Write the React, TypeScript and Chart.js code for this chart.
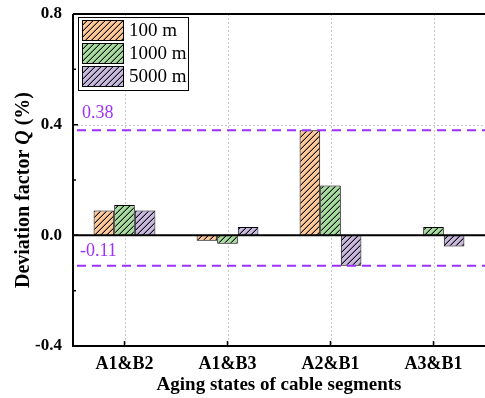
import React, { useEffect, useRef } from "react";
import { Chart, registerables } from "chart.js";

Chart.register(...registerables);

const categories = ["A1&B2", "A1&B3", "A2&B1", "A3&B1"];
const series100 = [0.09, -0.02, 0.38, 0];
const series1000 = [0.11, -0.03, 0.18, 0.03];
const series5000 = [0.09, 0.03, -0.11, -0.04];
const seriesLabels = ["100 m", "1000 m", "5000 m"];
const seriesColors = ["#FDC898", "#A6DA9F", "#C6B9DD"];
const refLines = [0.38, -0.11];
const refLabels = ["0.38", "-0.11"];
const yMajorTicks = [-0.4, 0, 0.4, 0.8];
const yMinorTicks = [-0.2, 0.2, 0.6];
const xTitle = "Aging states of cable segments";

const SERIF = "'Liberation Serif', 'Times New Roman', serif";
const PURPLE = "#9B30FF";

function makeHatch(color: string): CanvasPattern | string {
  const s = 6;
  const c = document.createElement("canvas");
  c.width = s;
  c.height = s;
  const g = c.getContext("2d");
  if (!g) return color;
  g.fillStyle = color;
  g.fillRect(0, 0, s, s);
  for (let px = 0; px < s; px++) {
    for (let py = 0; py < s; py++) {
      const k = (px + py) % s;
      if (k === s - 1) {
        g.fillStyle = "rgba(0,0,0,0.9)";
        g.fillRect(px, py, 1, 1);
      } else if (k === s - 2) {
        g.fillStyle = "rgba(0,0,0,0.35)";
        g.fillRect(px, py, 1, 1);
      }
    }
  }
  const p = g.createPattern(c, "repeat");
  return p || color;
}

const decor = {
  id: "decor",
  beforeDatasetsDraw(chart: any) {
    const { ctx, chartArea: a, scales } = chart;
    const x = scales.x;
    const y = scales.y;
    ctx.save();
    ctx.strokeStyle = "#c8c8c8";
    ctx.lineWidth = 1;
    ctx.setLineDash([2, 2]);
    categories.forEach((_, i) => {
      const px = Math.round(x.getPixelForValue(i)) + 0.5;
      ctx.beginPath();
      ctx.moveTo(px, a.top);
      ctx.lineTo(px, a.bottom);
      ctx.stroke();
    });
    yMajorTicks.forEach((v) => {
      const py = Math.round(y.getPixelForValue(v)) + 0.5;
      ctx.beginPath();
      ctx.moveTo(a.left, py);
      ctx.lineTo(a.right, py);
      ctx.stroke();
    });
    ctx.restore();
  },
  afterDatasetsDraw(chart: any) {
    const { ctx, chartArea: a, scales } = chart;
    const x = scales.x;
    const y = scales.y;
    ctx.save();
    // zero line
    ctx.strokeStyle = "#000";
    ctx.lineWidth = 2;
    const y0 = y.getPixelForValue(0);
    ctx.beginPath();
    ctx.moveTo(a.left, y0);
    ctx.lineTo(a.right, y0);
    ctx.stroke();
    // reference lines
    ctx.strokeStyle = PURPLE;
    ctx.lineWidth = 2;
    ctx.setLineDash([9, 6]);
    refLines.forEach((v) => {
      const py = y.getPixelForValue(v);
      ctx.beginPath();
      ctx.moveTo(a.left + 4, py);
      ctx.lineTo(a.right, py);
      ctx.stroke();
    });
    ctx.setLineDash([]);
    ctx.fillStyle = PURPLE;
    ctx.font = `18px ${SERIF}`;
    ctx.textAlign = "left";
    ctx.textBaseline = "alphabetic";
    ctx.fillText(refLabels[0], a.left + 9, y.getPixelForValue(refLines[0]) - 12);
    ctx.fillText(refLabels[1], a.left + 7, y.getPixelForValue(refLines[1]) - 10);
    // frame
    ctx.strokeStyle = "#000";
    ctx.lineWidth = 2;
    ctx.beginPath();
    ctx.moveTo(a.left, a.top);
    ctx.lineTo(a.right, a.top);
    ctx.moveTo(a.left, a.top);
    ctx.lineTo(a.left, a.bottom);
    ctx.moveTo(a.left - 1, a.bottom);
    ctx.lineTo(a.right, a.bottom);
    ctx.stroke();
    // ticks (inward)
    ctx.lineWidth = 1.5;
    ctx.beginPath();
    yMajorTicks.forEach((v) => {
      const py = y.getPixelForValue(v);
      ctx.moveTo(a.left, py);
      ctx.lineTo(a.left + 5, py);
    });
    yMinorTicks.forEach((v) => {
      const py = y.getPixelForValue(v);
      ctx.moveTo(a.left, py);
      ctx.lineTo(a.left + 3, py);
    });
    categories.forEach((_, i) => {
      const px = x.getPixelForValue(i);
      ctx.moveTo(px, a.bottom);
      ctx.lineTo(px, a.bottom - 5);
    });
    ctx.stroke();
    // legend
    const lx = a.left + 5;
    const ly = a.top + 3;
    ctx.fillStyle = "#fff";
    ctx.fillRect(lx, ly, 110, 73);
    ctx.strokeStyle = "#000";
    ctx.lineWidth = 1;
    ctx.strokeRect(lx + 0.5, ly + 0.5, 110, 73);
    chart.data.datasets.forEach((ds: any, i: number) => {
      const sy = ly + 3 + i * 23;
      ctx.fillStyle = ds.backgroundColor;
      ctx.fillRect(lx + 4, sy, 41, 20);
      ctx.strokeStyle = "#000";
      ctx.strokeRect(lx + 4.5, sy + 0.5, 41, 20);
      ctx.fillStyle = "#000";
      ctx.font = `19px ${SERIF}`;
      ctx.textBaseline = "middle";
      ctx.textAlign = "left";
      ctx.fillText(ds.label, lx + 51, sy + 11);
    });
    // y title with italic Q
    const parts = [
      { t: "Deviation factor ", f: `bold 20px ${SERIF}` },
      { t: "Q", f: `italic bold 20px ${SERIF}` },
      { t: " (%)", f: `bold 20px ${SERIF}` },
    ];
    let total = 0;
    parts.forEach((p) => {
      ctx.font = p.f;
      total += ctx.measureText(p.t).width;
    });
    ctx.translate(24, 190);
    ctx.rotate(-Math.PI / 2);
    ctx.fillStyle = "#000";
    ctx.textBaseline = "middle";
    ctx.textAlign = "left";
    let cx = -total / 2;
    parts.forEach((p) => {
      ctx.font = p.f;
      ctx.fillText(p.t, cx, 0);
      cx += ctx.measureText(p.t).width;
    });
    ctx.restore();
  },
};

export default function App() {
  const ref = useRef<HTMLCanvasElement | null>(null);
  useEffect(() => {
    document.body.style.margin = "0";
    if (!ref.current) return;
    const datasetsData = [series100, series1000, series5000];
    const chart = new Chart(ref.current, {
      type: "bar",
      data: {
        labels: categories,
        datasets: datasetsData.map((d, i) => ({
          label: seriesLabels[i],
          data: d,
          backgroundColor: makeHatch(seriesColors[i]) as any,
          borderColor: "#000",
          borderWidth: 1,
          categoryPercentage: 0.6,
          barPercentage: 1,
        })),
      },
      options: {
        animation: false,
        responsive: true,
        maintainAspectRatio: false,
        layout: { padding: { top: 14, right: 0, left: 0, bottom: 0 } },
        plugins: { legend: { display: false }, tooltip: { enabled: false } },
        scales: {
          x: {
            grid: { display: false },
            border: { display: false },
            ticks: {
              color: "#000",
              font: { family: SERIF, size: 18, weight: "bold" },
              padding: 0,
            },
            title: {
              display: true,
              text: xTitle,
              color: "#000",
              font: { family: SERIF, size: 19, weight: "bold" },
              padding: { top: 0, bottom: 2 },
            },
            afterFit(scale: any) {
              scale.height = 52;
            },
          },
          y: {
            min: -0.4,
            max: 0.8,
            grid: { display: false },
            border: { display: false },
            ticks: {
              stepSize: 0.4,
              color: "#000",
              padding: 3,
              font: { family: SERIF, size: 17, weight: "bold" },
              callback: (v: any) => Number(v).toFixed(1),
            },
            afterFit(scale: any) {
              scale.width = 73;
            },
          },
        },
      },
      plugins: [decor],
    });
    return () => chart.destroy();
  }, []);
  return (
    <div style={{ width: 485, height: 398, position: "relative" }}>
      <canvas ref={ref} />
    </div>
  );
}
